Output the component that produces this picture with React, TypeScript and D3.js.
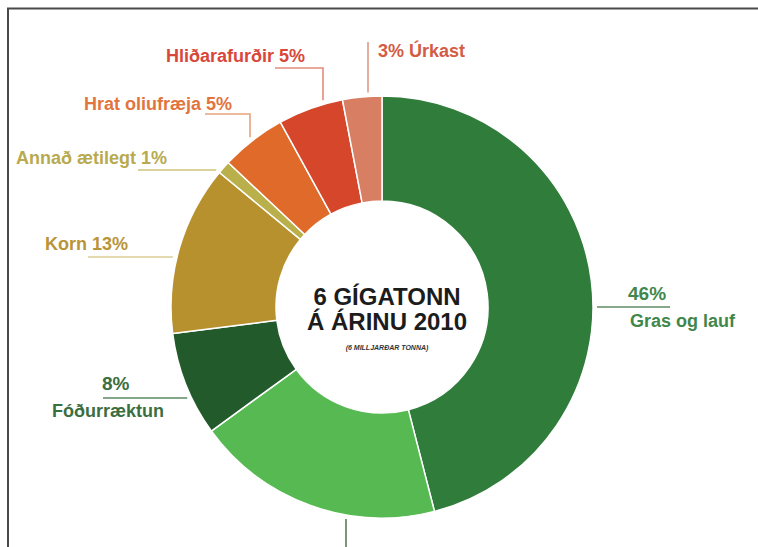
import { useMemo } from "react";
import * as d3 from "d3";

// Fóðurnotkun búfjár 2010 — hlutföll (%), réttsælis frá kl. 12
const names = [
    "Gras og lauf",
    "Uppskeruleifar",
    "Fóðurræktun",
    "Korn",
    "Annað ætilegt",
    "Hrat oliufræja",
    "Hliðarafurðir",
    "Úrkast",
];
const shares = [46, 19, 8, 13, 1, 5, 5, 3];
const sliceColors = [
    "#2f7c3b",
    "#56b952",
    "#235a2b",
    "#b8912f",
    "#b9b04c",
    "#e06a2a",
    "#d5462a",
    "#d87e62",
];
const textColors = [
    "#3f874a",
    "#4f7a55",
    "#3b6e40",
    "#b99438",
    "#b8aa4f",
    "#e2743e",
    "#d9473a",
    "#d35c45",
];
const lineColors = [
    "#5d8d62",
    "#5a7a5a",
    "#5d8a62",
    "#dccd96",
    "#cdc57a",
    "#e8a27c",
    "#e38c7a",
    "#e09a86",
];

const centerLines = ["6 GÍGATONN", "Á ÁRINU 2010"];
const centerNote = "(6 MILLJARÐAR TONNA)";

// label layout (annotation placement, kept apart from the data)
// kind: "below" = pct over a rule, name under it; "end" = text right-aligned; "start" = text left-aligned
const labelLayout = [
    { kind: "below", tx: 628, ty: 300, nx: 630, ny: 327, lx: 670, ly: 307, to: "h" },
    { kind: "none", lx: 346, ly: 547, to: "v" },
    { kind: "below", tx: 102, ty: 390, nx: 52, ny: 417, lx: 103, ly: 398, to: "h" },
    { kind: "end", tx: 128, ty: 250, lx: 88, ly: 257, to: "h" },
    { kind: "end", tx: 167, ty: 164, lx: 138, ly: 170, to: "h" },
    { kind: "end", tx: 232, ty: 110, lx: 205, ly: 114, ex: 250, to: "v" },
    { kind: "end", tx: 305, ty: 62, lx: 275, ly: 68, ex: 323, to: "v" },
    { kind: "start", tx: 378, ty: 57, lx: 368, ly: 42, ex: 368, to: "v" },
];

const W = 758;
const H = 547;
const cx = 382;
const cy = 307;
const outerR = 211;
const innerR = 106;
const gap = 4;
const font = "'Liberation Sans', Arial, Helvetica, sans-serif";

export default function App() {
    const arcs = useMemo(() => {
        const pie = d3
            .pie<number>()
            .sort(null)
            .value((d) => d);
        return pie(shares);
    }, []);

    const arcGen = d3.arc<d3.PieArcDatum<number>>().innerRadius(innerR).outerRadius(outerR);

    // where a leader line meets the ring
    const ringPoint = (lay: any) => {
        const rr = outerR + gap;
        if (lay.to === "h") {
            const dy = lay.ly - cy;
            const dx = Math.sqrt(rr * rr - dy * dy);
            const x = lay.lx > cx ? cx + dx : cx - dx;
            return [[lay.lx, lay.ly], [x, lay.ly]];
        }
        const x = lay.ex ?? lay.lx;
        const dx = x - cx;
        const dy = Math.sqrt(rr * rr - dx * dx);
        const y = lay.ly > cy ? cy + dy : cy - dy;
        const pts = [[lay.lx, lay.ly]];
        if (lay.ex != null && lay.ex !== lay.lx) pts.push([lay.ex, lay.ly]);
        pts.push([x, y]);
        return pts;
    };

    const line = d3.line();

    return (
        <div style={{ position: "absolute", left: 0, top: 0 }}>
            <svg width={W} height={H} style={{ display: "block", background: "#fff" }}>
                <path d={`M8,${H} V8.5 H${W}`} fill="none" stroke="#4a4a4a" strokeWidth={2} />
                <g transform={`translate(${cx},${cy})`}>
                    {arcs.map((a, i) => (
                        <path
                            key={names[i]}
                            d={arcGen(a) ?? ""}
                            fill={sliceColors[i]}
                            stroke="#fff"
                            strokeWidth={1.5}
                            strokeLinejoin="round"
                        />
                    ))}
                </g>
                {labelLayout.map((lay: any, i) => (
                    <g key={`lab-${i}`} style={{ fontFamily: font, fontWeight: 700 }}>
                        <path
                            d={line(ringPoint(lay) as [number, number][]) ?? ""}
                            fill="none"
                            stroke={lineColors[i]}
                            strokeWidth={1.6}
                        />
                        {lay.kind === "below" && (
                            <>
                                <text x={lay.tx} y={lay.ty} fontSize={19} fill={textColors[i]}>
                                    {`${shares[i]}%`}
                                </text>
                                <text x={lay.nx} y={lay.ny} fontSize={18} fill={textColors[i]}>
                                    {names[i]}
                                </text>
                            </>
                        )}
                        {lay.kind === "end" && (
                            <text
                                x={lay.tx}
                                y={lay.ty}
                                fontSize={18}
                                fill={textColors[i]}
                                textAnchor="end"
                            >
                                {`${names[i]} ${shares[i]}%`}
                            </text>
                        )}
                        {lay.kind === "start" && (
                            <text x={lay.tx} y={lay.ty} fontSize={18} fill={textColors[i]}>
                                {`${shares[i]}% ${names[i]}`}
                            </text>
                        )}
                    </g>
                ))}
                <g style={{ fontFamily: font }} fill="#1c1c1c" textAnchor="middle">
                    <text x={cx + 5} y={305} fontSize={24} fontWeight={700}>
                        {centerLines[0]}
                    </text>
                    <text x={cx + 5} y={330} fontSize={24} fontWeight={700}>
                        {centerLines[1]}
                    </text>
                    <text
                        x={cx + 5}
                        y={350}
                        fontSize={7}
                        fontWeight={700}
                        fontStyle="italic"
                        fill="#333"
                    >
                        {centerNote}
                    </text>
                </g>
            </svg>
        </div>
    );
}
